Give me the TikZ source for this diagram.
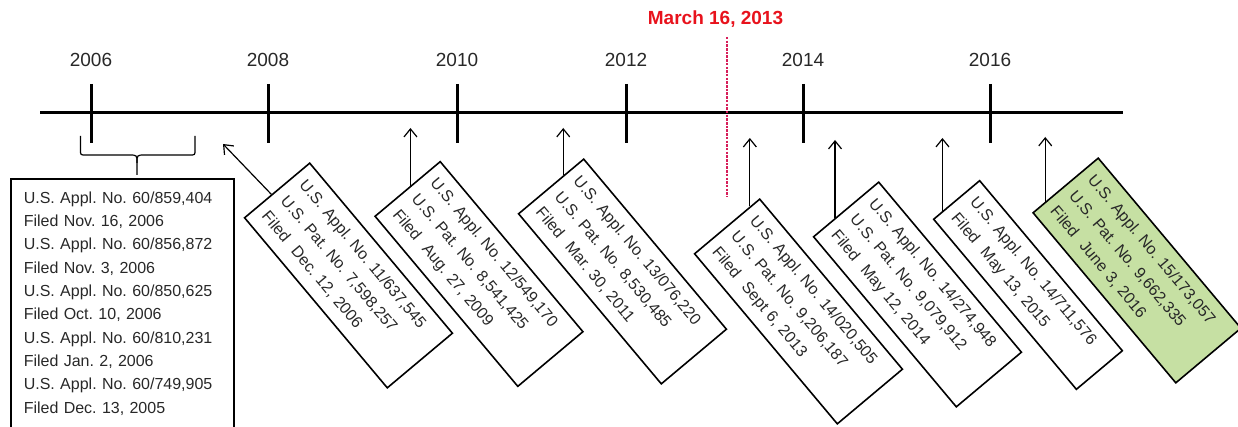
\documentclass[tikz,border=0pt]{standalone}
\usepackage{fontspec}
\setmainfont{Liberation Sans}
\usetikzlibrary{arrows.meta,calc}
\definecolor{boxgreen}{RGB}{198,224,163}
\definecolor{datered}{RGB}{232,18,28}
\definecolor{dateline}{RGB}{215,30,90}
\definecolor{ink}{RGB}{40,40,40}
\begin{document}
\frenchspacing
\begin{tikzpicture}[x=1pt,y=-1pt,
  patbox/.style={draw=black, line width=1.6pt, rotate=-50, minimum height=85pt,
    text width=202pt, inner xsep=10pt, inner ysep=0pt, align=left, text=ink,
    font=\frenchspacing\fontsize{16}{24.5}\selectfont},
  provbox/.style={draw=black, line width=1.6pt, anchor=north west, text width=197pt,
    inner xsep=13pt, inner ysep=13pt, align=left, text=ink,
    font=\frenchspacing\fontsize{16}{23.3}\selectfont},
  yearlbl/.style={text=ink, font=\fontsize{19}{22}\selectfont, inner sep=0pt},
  tickpen/.style={line width=3pt},
  arr/.style={line width=1.2pt, -{Straight Barb[length=8pt,width=13pt,line width=1.2pt]}},
  bracepen/.style={line width=1.2pt}
]
\useasboundingbox (0,0) rectangle (1238,427);
\clip (0,0) rectangle (1238,427);

% timeline
\coordinate (tl0) at (40,113);
\coordinate (tl1) at (1123,113);
\draw[tickpen] (tl0) -- (tl1);

% ticks and years
\foreach \yr/\xx in {2006/91,2008/268,2010/457,2012/626,2014/803,2016/990}{
  \node[yearlbl] (y\yr) at (\xx,60) {\yr};
  \draw[tickpen] (\xx,84) -- (\xx,143);
}

% March 16, 2013
\node[text=datered, font=\bfseries\fontsize{19}{22}\selectfont, inner sep=0pt] (march) at (715.5,19.5) {March 16, 2013};
\coordinate (d1) at (727,37);
\coordinate (d2) at (727,197);
\draw[dateline, line width=1.2pt, dash pattern=on 2.5pt off 1.2pt] (d1) -- (d2);

% provisional box
\node[provbox] (prov) at (10,178) {U.S. Appl. No. 60/859,404\\Filed Nov. 16, 2006\\U.S. Appl. No. 60/856,872\\Filed Nov. 3, 2006\\U.S. Appl. No. 60/850,625\\Filed Oct. 10, 2006\\U.S. Appl. No. 60/810,231\\Filed Jan. 2, 2006\\U.S. Appl. No. 60/749,905\\Filed Dec. 13, 2005};

% brace
\coordinate (brtip) at (137,175);
\draw[bracepen] (80.5,136) -- (80.5,150) .. controls (80.5,155) .. (86,155) -- (129,155) .. controls (137,155) .. (137,163) -- (brtip);
\draw[bracepen] (195,136) -- (195,150) .. controls (195,155) .. (189.5,155) -- (145,155) .. controls (137,155) .. (137,163);

% rotated boxes
\node[patbox] (b1) at (348.5,275.5) {U.S. Appl. No. 11/637,545\\U.S. Pat. No. 7,598,257\\Filed\ \ Dec. 12, 2006};
\node[patbox] (b2) at (479,274) {U.S. Appl. No. 12/549,170\\U.S. Pat. No. 8,541,425\\Filed\ \ Aug. 27, 2009};
\node[patbox] (b3) at (622.5,271.5) {U.S. Appl. No. 13/076,220\\U.S. Pat. No. 8,530,485\\Filed\ \ Mar. 30, 2011};
\node[patbox] (b4) at (798.5,311.5) {U.S. Appl. No. 14/020,505\\U.S. Pat. No. 9,206,187\\Filed\ \ Sept 6, 2013};
\node[patbox] (b5) at (917.5,294.5) {U.S. Appl. No. 14/274,948\\U.S. Pat. No. 9,079,912\\Filed\ \ May 12, 2014};
\node[patbox, minimum height=60pt] (b6) at (1028,285) {U.S. Appl. No. 14/711,576\\Filed\ \ May 13, 2015};
\node[patbox, fill=boxgreen] (b7) at (1137,270.5) {U.S. Appl. No. 15/173,057\\U.S. Pat. No. 9,662,335\\Filed\ \ June 3, 2016};

% arrows
\coordinate (a1s) at ($(b1.north west)!0.58!(b1.south west)$);
\coordinate (a1e) at (223,144);
\draw[arr] (a1s) -- (a1e);
\coordinate (a2s) at ($(b2.north west)!0.45!(b2.south west)$);
\draw[arr] (a2s) -- (a2s |- 0,128);
\coordinate (a3s) at ($(b3.north west)!0.31!(b3.south west)$);
\draw[arr] (a3s) -- (a3s |- 0,128);
\coordinate (a4s) at ($(b4.north west)!0.15!(b4.south west)$);
\draw[arr] (a4s) -- (a4s |- 0,138);
\coordinate (a5s) at ($(b5.north west)!0.66!(b5.south west)$);
\draw[arr] (a5s) -- (a5s |- 0,140);
\coordinate (a6s) at ($(b6.north west)!0.79!(b6.south west)$);
\draw[arr] (a6s) -- (a6s |- 0,138);
\coordinate (a7s) at ($(b7.north west)!0.8!(b7.south west)$);
\draw[arr] (a7s) -- (a7s |- 0,137);
\end{tikzpicture}
\end{document}
